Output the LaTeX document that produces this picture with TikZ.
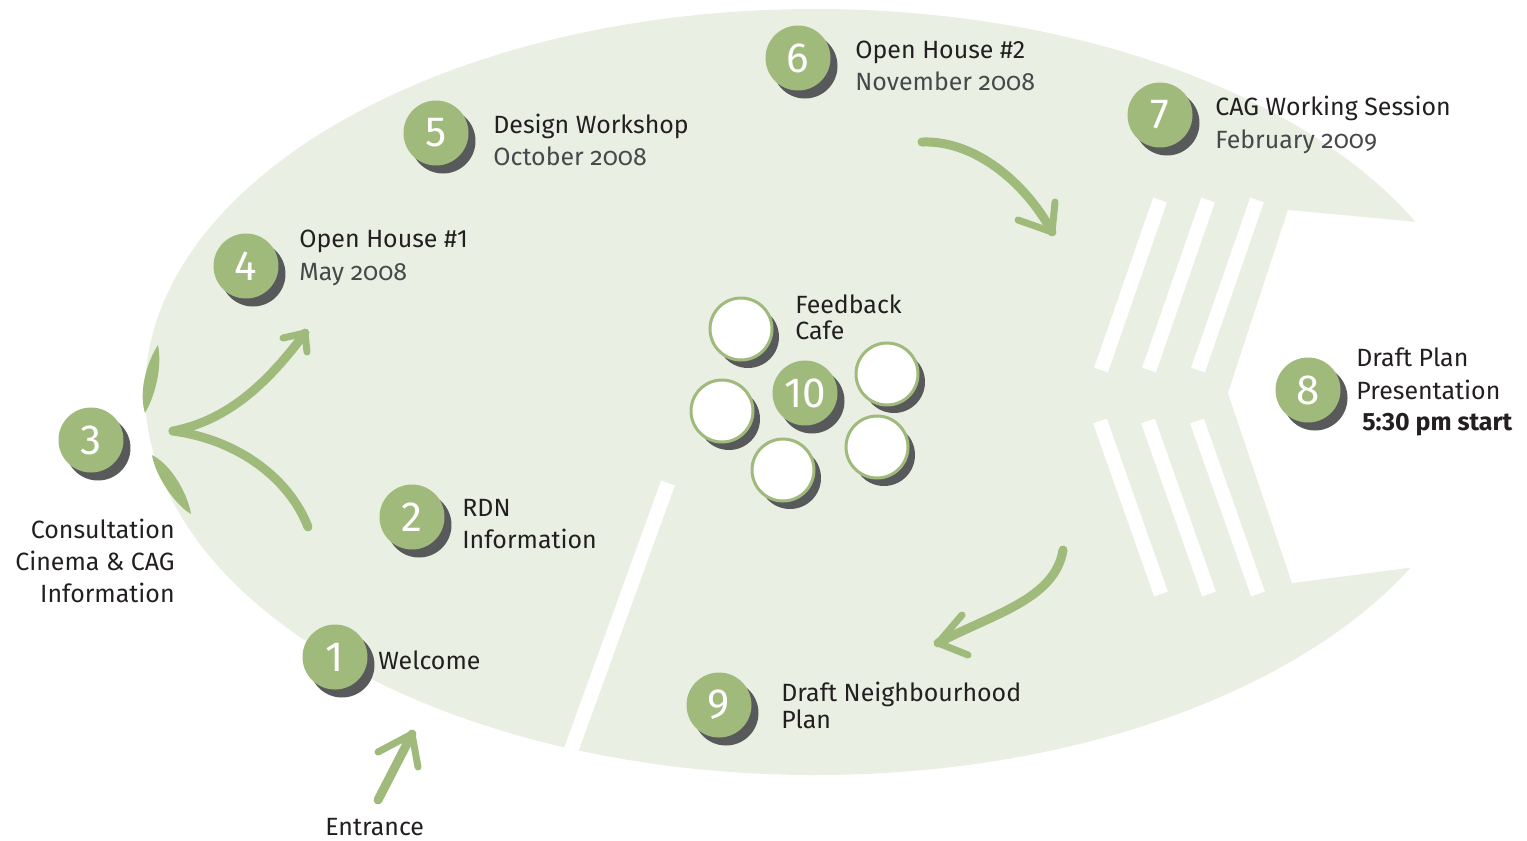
\documentclass[tikz,border=0pt]{standalone}
\usepackage{fontspec}
\setmainfont{Fira Sans}
\newfontfamily\datefont{Fira Sans}[Numbers=OldStyle]
\usetikzlibrary{shadows,positioning,calc}
\definecolor{leafgreen}{HTML}{A0BA7C}
\definecolor{paleleaf}{HTML}{E9F0E3}
\definecolor{shadegrey}{HTML}{58595B}
\definecolor{inkgrey}{HTML}{231F20}
\definecolor{dategrey}{HTML}{48484A}
\tikzset{
  numdot/.style={circle, fill=leafgreen, minimum size=1.3cm, inner sep=0pt, text=white,
    font=\fontsize{24}{24}\selectfont,
    drop shadow={shadow xshift=0.14cm, shadow yshift=-0.16cm, fill=shadegrey, opacity=1}},
  cafetable/.style={circle, fill=white, draw=leafgreen, line width=0.06cm, minimum size=1.24cm, inner sep=0pt,
    drop shadow={shadow xshift=0.14cm, shadow yshift=-0.16cm, fill=shadegrey, opacity=1}},
  lbl/.style={anchor=base west, inner sep=0pt, text=inkgrey, font=\fontsize{14.2}{17}\selectfont},
  datelbl/.style={lbl, text=dategrey, font=\fontsize{14.2}{17}\selectfont\datefont},
  brush/.style={draw=leafgreen, line width=0.18cm, line cap=round, line join=round},
  barb/.style={brush, line width=0.14cm},
  gap/.style={draw=white, line width=0.29cm},
}
\begin{document}
\begin{tikzpicture}[x=0.02cm, y=-0.02cm]
\useasboundingbox (0,0) rectangle (1527,840);

%ground
\fill[paleleaf] (815,392) ellipse [x radius=670, y radius=383];
\fill[white] (1417,222) -- (1288,210) -- (1228,393) -- (1292,583) -- (1415,567) -- (1500,567) -- (1500,222) -- cycle;
\draw[gap] (668,483) -- (562,775);
\foreach \dx in {0,48,97} {
  \draw[gap] (1160+\dx,200) -- (1101+\dx,370);
  \draw[gap] (1100+\dx,421) -- (1161+\dx,594);
}

%arrows
\coordinate (entfoot) at (378,800);
\coordinate (enttip) at (412,734);
\draw[brush] (entfoot) -- (enttip);
\draw[barb] (enttip) -- (378,752);
\draw[barb] (enttip) -- (418,767);

\coordinate (fork) at (173,431);
\coordinate (forktip) at (305,333);
\draw[brush] (fork) .. controls (230,420) and (270,380) .. (forktip);
\draw[barb] (forktip) -- (283,338);
\draw[barb] (forktip) -- (307,352);
\draw[brush] (fork) .. controls (240,440) and (290,480) .. (308,527);
\fill[leafgreen] (158,345) .. controls (163,370) and (153,400) .. (145,413) .. controls (138,390) and (148,360) .. cycle;
\fill[leafgreen] (152,455) .. controls (172,465) and (188,495) .. (191,514) .. controls (175,505) and (155,475) .. cycle;

\coordinate (topfoot) at (922,142);
\coordinate (toptip) at (1052,232);
\draw[brush] (topfoot) .. controls (980,140) and (1030,190) .. (toptip);
\draw[barb] (toptip) -- (1018,220);
\draw[barb] (toptip) -- (1055,202);

\coordinate (lowfoot) at (1063,550);
\coordinate (lowtip) at (938,643);
\draw[brush] (lowfoot) .. controls (1055,600) and (990,615) .. (lowtip);
\draw[barb] (lowtip) -- (962,615);
\draw[barb] (lowtip) -- (968,655);

%cafe tables
\draw (741,329) node [cafetable] (tabA) {};
\draw (722,411) node [cafetable] (tabB) {};
\draw (783,470) node [cafetable] (tabC) {};
\draw (887,374) node [cafetable] (tabD) {};
\draw (877,447) node [cafetable] (tabE) {};

%numbered stops
\draw (335,657) node [numdot] (n1) {1};
\draw (412,517) node [numdot] (n2) {2};
\draw (91,440) node [numdot] (n3) {3};
\draw (246,266) node [numdot] (n4) {4};
\draw (436,133) node [numdot] (n5) {5};
\draw (798,58) node [numdot] (n6) {6};
\draw (1160,115) node [numdot] (n7) {7};
\draw (1308,390) node [numdot] (n8) {8};
\draw (719,705) node [numdot] (n9) {9};
\draw (805,393) node [numdot] (n10) {10};

%labels
\draw (378,669) node [lbl] (l1) {Welcome};
\draw (462,516) node [lbl] (l2a) {RDN};
\draw (462,548) node [lbl] (l2b) {Information};
\draw (175,538) node [lbl, anchor=base east] (l3a) {Consultation};
\draw (175,570) node [lbl, anchor=base east] (l3b) {Cinema \& CAG};
\draw (175,602) node [lbl, anchor=base east] (l3c) {Information};
\draw (299,247) node [lbl] (l4a) {Open House \#1};
\draw (299,280) node [datelbl] (l4b) {May 2008};
\draw (493,133) node [lbl] (l5a) {Design Workshop};
\draw (493,165) node [datelbl] (l5b) {October 2008};
\draw (855,58) node [lbl] (l6a) {Open House \#2};
\draw (855,90) node [datelbl] (l6b) {November 2008};
\draw (1215,115) node [lbl] (l7a) {CAG Working Session};
\draw (1215,148) node [datelbl] (l7b) {February 2009};
\draw (1356,366) node [lbl] (l8a) {Draft Plan};
\draw (1356,399) node [lbl] (l8b) {Presentation};
\draw (1362,430) node [lbl, font=\fontsize{14.2}{17}\selectfont\bfseries] (l8c) {5:30 pm start};
\draw (781,701) node [lbl] (l9a) {Draft Neighbourhood};
\draw (781,728) node [lbl] (l9b) {Plan};
\draw (795,313) node [lbl] (l10a) {Feedback};
\draw (795,339) node [lbl] (l10b) {Cafe};
\draw (325,835) node [lbl] (lent) {Entrance};
\end{tikzpicture}
\end{document}
